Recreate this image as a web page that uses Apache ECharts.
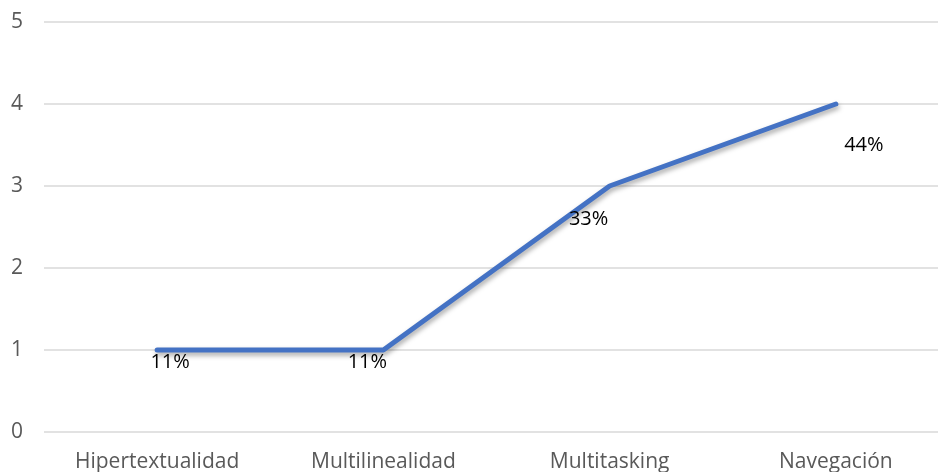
<!DOCTYPE html>
<html>
<head>
<meta charset="utf-8">
<script src="https://cdn.jsdelivr.net/npm/echarts@6/dist/echarts.min.js"></script>
<style>
  html, body { margin: 0; padding: 0; background: #fff; }
  #chart { width: 938px; height: 472px; }
</style>
</head>
<body>
<div id="chart"></div>
<script>
// Categories and values
const categories = ['Hipertextualidad', 'Multilinealidad', 'Multitasking', 'Navegación'];
const counts = [1, 1, 3, 4];
const percentLabels = ['11%', '11%', '33%', '44%'];
// Where each value label's centre sits relative to its point [dx, dy]
const labelOffsets = [[13, 12], [-16, 12], [-21, 33], [28, 41]];

const chart = echarts.init(document.getElementById('chart'), null, { renderer: 'canvas' });

const seriesData = counts.map((v, i) => ({
  value: v,
  label: {
    show: true,
    position: 'top',
    distance: 0,
    align: 'center',
    verticalAlign: 'middle',
    offset: labelOffsets[i],
    formatter: percentLabels[i]
  }
}));

chart.setOption({
  animation: false,
  grid: {
    left: 44, width: 905, top: 22, bottom: 40,
    containLabel: false,
    outerBoundsMode: 'none'
  },
  xAxis: {
    type: 'category',
    data: categories,
    boundaryGap: true,
    axisLine: { show: false },
    axisTick: { show: false },
    axisLabel: {
      color: '#595959',
      fontFamily: 'Open Sans',
      fontSize: 21,
      margin: 20
    }
  },
  yAxis: {
    type: 'value',
    min: 0,
    max: 5,
    interval: 1,
    axisLine: { show: false },
    axisTick: { show: false },
    splitLine: { lineStyle: { color: '#d9d9d9', width: 1.5 } },
    axisLabel: {
      color: '#595959',
      fontFamily: 'Open Sans',
      fontSize: 21,
      margin: 21
    }
  },
  series: [{
    type: 'line',
    data: seriesData,
    symbol: 'circle',
    symbolSize: 0,
    showSymbol: true,
    itemStyle: { color: 'rgba(0,0,0,0)' },
    clip: false,
    lineStyle: {
      color: '#4472C4',
      width: 5,
      cap: 'round',
      join: 'round',
      shadowColor: 'rgba(0,0,0,0.35)',
      shadowBlur: 5,
      shadowOffsetX: 1,
      shadowOffsetY: 3
    },
    label: {
      color: '#000',
      fontFamily: 'Open Sans',
      fontSize: 20
    }
  }]
});
</script>
</body>
</html>
